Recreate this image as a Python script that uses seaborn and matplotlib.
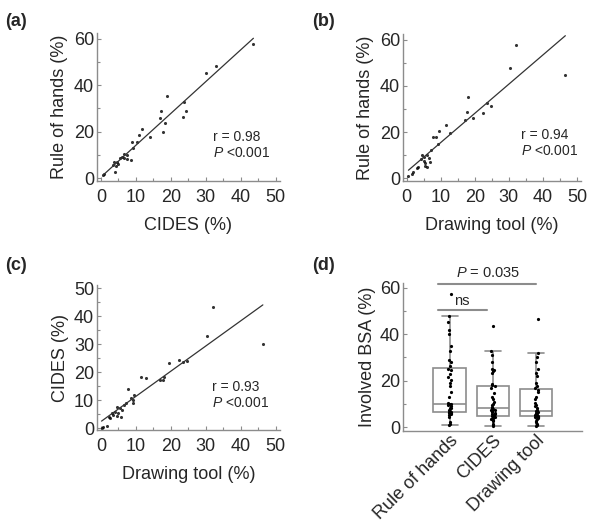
import numpy as np
import pandas as pd
import matplotlib
matplotlib.use("Agg")
import matplotlib.pyplot as plt
import seaborn as sns
from matplotlib.ticker import MultipleLocator

# (a) CIDES vs rule of hands
a_cides = [0.5, 1.0, 43.6, 32.9, 30.1, 18.9, 17.1, 16.9, 18.4, 17.9, 23.9, 24.4, 23.6,
           11.9, 10.9, 14.0, 9.0, 10.3, 9.3, 6.5, 6.0, 7.4, 5.5, 7.4, 8.6, 3.8, 4.5,
           3.6, 4.4, 4.1, 5.0, 6.5]
a_hands = [1.2, 1.8, 57.8, 48.3, 45.1, 35.3, 29.0, 25.7, 23.8, 19.8, 32.9, 28.9, 26.4,
           21.1, 18.4, 17.8, 15.4, 15.4, 12.8, 10.3, 9.2, 9.9, 8.5, 8.1, 7.8, 7.0, 6.8,
           5.6, 5.2, 2.7, 6.3, 8.5]

# (b) drawing tool vs rule of hands
b_draw = [32.1, 30.4, 46.6, 17.9, 17.8, 17.1, 19.6, 23.5, 22.5, 24.8, 11.4, 9.5, 12.7,
          7.8, 8.5, 9.3, 7.1, 4.4, 5.2, 5.9, 4.2, 6.4, 6.9, 5.4, 2.9, 3.4, 5.4, 5.9,
          1.5, 0.5, 1.7, 5.0]
b_hands = [57.5, 47.7, 44.7, 35.0, 28.6, 25.0, 26.0, 32.6, 28.2, 31.3, 23.2, 20.6, 19.4,
           17.7, 17.7, 14.8, 12.1, 10.0, 9.2, 10.0, 8.2, 8.9, 7.0, 6.7, 4.5, 4.7, 5.3,
           5.0, 1.9, 0.9, 2.6, 7.6]

# (c) drawing tool vs CIDES
c_draw = [32.0, 46.3, 30.3, 19.6, 22.4, 23.6, 24.7, 16.9, 17.7, 18.1, 11.4, 12.9, 7.7,
          9.5, 8.7, 9.2, 9.2, 7.2, 6.5, 4.6, 5.5, 6.0, 4.1, 5.0, 4.6, 3.1, 3.6, 2.2,
          5.7, 1.7, 0.7, 0.2, 2.6]
c_cides = [43.4, 30.1, 33.0, 23.4, 24.4, 23.8, 24.2, 17.3, 17.3, 18.4, 18.2, 17.8, 14.0,
           11.9, 10.9, 10.1, 8.9, 9.2, 8.3, 7.5, 7.1, 6.5, 5.9, 5.5, 4.4, 5.4, 4.6, 4.1,
           4.1, 0.8, 0.4, 0.0, 3.6]

# (d) involved BSA by method
methods = ["Rule of hands", "CIDES", "Drawing tool"]
d_hands = [1.0, 1.5, 2.0, 4.5, 5.0, 5.5, 6.0, 6.2, 6.4, 6.5, 6.6, 7.0, 7.5, 8.0, 8.4,
           9.0, 9.4, 9.8, 10.0, 10.0, 10.2, 13.0, 15.0, 17.5, 18.8, 20.2, 21.7, 23.0,
           24.5, 25.0, 26.3, 28.0, 29.0, 33.0, 35.0, 40.0, 42.0, 45.5, 48.0, 57.5]
d_cides = [0.3, 0.8, 1.5, 2.5, 3.0, 3.5, 4.0, 4.2, 4.4, 4.5, 4.8, 5.0, 5.5, 5.8, 6.0,
           6.5, 7.0, 7.2, 7.5, 7.8, 8.2, 8.7, 9.5, 10.1, 11.0, 12.0, 13.0, 14.5, 17.0,
           17.6, 18.0, 18.5, 23.5, 24.0, 24.5, 25.2, 28.0, 31.0, 33.0, 43.5]
d_draw = [0.4, 0.8, 1.5, 2.0, 2.8, 3.3, 3.8, 4.2, 4.4, 4.5, 4.8, 5.0, 5.2, 5.4, 5.6,
          5.9, 6.0, 6.3, 6.5, 6.7, 7.0, 7.5, 8.2, 9.0, 9.5, 10.5, 12.0, 13.0, 15.0,
          16.0, 17.0, 17.8, 19.0, 22.0, 23.5, 25.0, 28.0, 30.0, 32.0, 46.6]

sns.set_style("ticks")
plt.rcParams['font.family'] = ['Liberation Sans', 'DejaVu Sans']
plt.rcParams['mathtext.fontset'] = 'custom'
plt.rcParams['mathtext.rm'] = 'Liberation Sans'
plt.rcParams['mathtext.it'] = 'Liberation Sans:italic'

W, H = 590, 523
fig = plt.figure(figsize=(W / 100, H / 100), dpi=100)


def box(l, r, t, b):
    return [l / W, 1 - b / H, (r - l) / W, (b - t) / H]


grey = '#8c8c8c'


def style(ax, ymajor, yminor):
    sns.despine(ax=ax)
    for s in ['left', 'bottom']:
        ax.spines[s].set_color(grey)
        ax.spines[s].set_linewidth(1.0)
    ax.yaxis.set_major_locator(MultipleLocator(ymajor))
    ax.yaxis.set_minor_locator(MultipleLocator(yminor))
    ax.tick_params(which='major', direction='in', length=3, width=0.8, color=grey,
                   labelsize=13, pad=2)
    ax.tick_params(which='minor', direction='in', length=2, width=0.8, color=grey)


def scatter_panel(ax, x, y, xlab, ylab, r, ylim, ymajor, yminor, tx, ty):
    sns.regplot(x=x, y=y, ax=ax, ci=None,
                scatter_kws=dict(s=5, color='black', linewidths=0),
                line_kws=dict(color='#333333', lw=0.9))
    ax.set_xlim(-1.1, 51.2)
    ax.set_ylim(*ylim)
    ax.xaxis.set_major_locator(MultipleLocator(10))
    ax.xaxis.set_minor_locator(MultipleLocator(5))
    style(ax, ymajor, yminor)
    ax.tick_params(axis='x', which='major', pad=6)
    ax.set_xlabel(xlab, fontsize=13, labelpad=8)
    ax.set_ylabel(ylab, fontsize=13, labelpad=4)
    ax.text(tx, ty, f"r = {r}", transform=ax.transAxes, fontsize=10, va='center')
    ax.text(tx, ty - 0.105, "$P$ <0.001", transform=ax.transAxes, fontsize=10, va='center')


ax_a = fig.add_axes(box(97, 280, 33, 181))
scatter_panel(ax_a, a_cides, a_hands, "CIDES (%)", "Rule of hands (%)", "0.98",
              (-1.2, 62.4), 20, 10, 0.636, 0.294)

ax_b = fig.add_axes(box(403, 581, 34, 181))
scatter_panel(ax_b, b_draw, b_hands, "Drawing tool (%)", "Rule of hands (%)", "0.94",
              (-1.2, 62.4), 20, 10, 0.663, 0.31)

ax_c = fig.add_axes(box(97, 280, 285, 430))
scatter_panel(ax_c, c_draw, c_cides, "Drawing tool (%)", "CIDES (%)", "0.93",
              (-0.6, 51.2), 10, 5, 0.627, 0.294)

# (d) box plot
df = pd.DataFrame({
    'method': np.repeat(methods, [len(d_hands), len(d_cides), len(d_draw)]),
    'bsa': d_hands + d_cides + d_draw,
})
ax_d = fig.add_axes(box(403, 582, 283, 431))
sns.boxplot(data=df, x='method', y='bsa', order=methods, showfliers=False, width=0.75,
            color='white', linecolor=grey, linewidth=1.2, ax=ax_d)
sns.stripplot(data=df, x='method', y='bsa', order=methods, color='black', size=2.3,
              jitter=0.04, ax=ax_d)
ax_d.set_xlim(-1.08, 3.06)
ax_d.set_ylim(-1.7, 62.1)
style(ax_d, 20, 10)
ax_d.tick_params(axis='x', length=0, pad=1)
ax_d.set_xlabel("")
ax_d.set_ylabel("Involved BSA (%)", fontsize=13, labelpad=3)
plt.setp(ax_d.get_xticklabels(), rotation=45, ha='right', rotation_mode='anchor')
ax_d.plot([-0.26, 2.0], [61.8, 61.8], color=grey, lw=1.5, clip_on=False)
ax_d.text(0.89, 63.5, "$P$ = 0.035", ha='center', va='bottom', fontsize=10.5)
ax_d.plot([-0.26, 0.86], [50.5, 50.5], color=grey, lw=1.5)
ax_d.text(0.28, 51.5, "ns", ha='center', va='bottom', fontsize=10.5)

# panel letters
for lab, x, y in [("(a)", 5, 22), ("(b)", 312, 22), ("(c)", 5, 266), ("(d)", 312, 266)]:
    fig.text(x / W, 1 - y / H, lab, fontsize=13, fontweight='bold', va='center')

fig.savefig("out.png", dpi=100)
